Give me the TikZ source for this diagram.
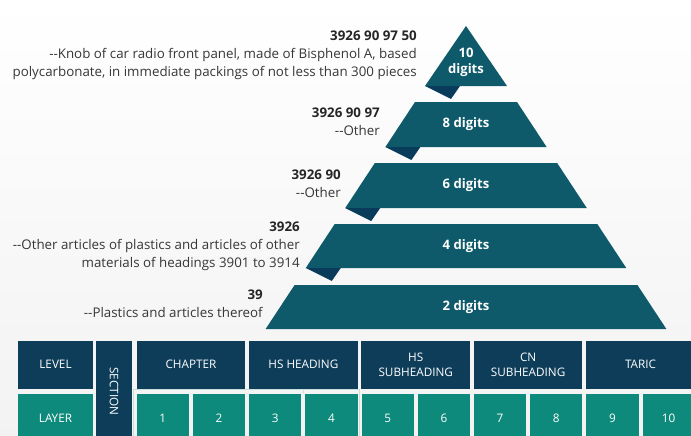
\documentclass[tikz,border=0pt]{standalone}
\usepackage{fontspec}
\setmainfont{Open Sans}
\usetikzlibrary{positioning, shapes}
\definecolor{pyrteal}{RGB}{14,90,106}
\definecolor{folddark}{RGB}{8,60,90}
\definecolor{levelnavy}{RGB}{14,61,89}
\definecolor{layergreen}{RGB}{14,138,124}
\definecolor{desctext}{RGB}{55,55,55}
\definecolor{groupgray}{RGB}{200,224,218}
\tikzstyle{layerlabel} = [text=white, font=\bfseries\fontsize{9.8}{12}\selectfont, align=center]
\tikzstyle{desc} = [anchor=east, align=right, text=desctext, inner sep=0, font=\fontsize{10}{13.5}\selectfont]
\tikzstyle{headbox} = [rectangle, fill=levelnavy, text=white, minimum width=81.4pt, minimum height=36pt, inner sep=0, align=center, font=\fontsize{8.8}{11.5}\selectfont]
\tikzstyle{cellbox} = [rectangle, fill=layergreen, text=white, minimum width=39.2pt, minimum height=36pt, inner sep=0, font=\fontsize{8.8}{11.5}\selectfont]
\tikzstyle{groupline} = [draw=groupgray, line width=0.8pt]

\begin{document}
\begin{tikzpicture}[x=0.75pt, y=-0.75pt]
    \shade[top color=white, bottom color=black!5] (0,0) rectangle (691,435);
    \clip (0,0) rectangle (691,435);

    % Draw the pyramid
    \fill[pyrteal] (466,26) -- (507,86) -- (425,86) -- cycle;
    \fill[folddark] (425,86) -- (460,86) -- (451,99) -- cycle;
    \node[layerlabel] (l10) at (466,62) {10\\digits};
    \foreach \t/\b/\d in {102/147/8, 163/208/6, 224/268/4, 285/329/2} {
        \pgfmathsetmacro{\wt}{0.658*(\t-26)+1}
        \pgfmathsetmacro{\wb}{0.658*(\b-26)+1}
        \fill[pyrteal] (466-\wt,\t) -- (466+\wt,\t) -- (466+\wb,\b) -- (466-\wb,\b) -- cycle;
        \ifnum\d>2
            \fill[folddark] (466-\wb,\b) -- (501-\wb,\b) -- (492-\wb,\b+13) -- cycle;
        \fi
        \node[layerlabel] (l\d) at (466,{(\t+\b)/2}) {\d~digits};
    }

    % Place the descriptions
    \node[desc] (d10) at (417,55) {\textbf{\color{black!85}3926 90 97 50}\\-{}-Knob of car radio front panel, made of Bisphenol A, based\\polycarbonate, in immediate packings of not less than 300 pieces};
    \node[desc] (d8) at (380,122) {\textbf{\color{black!85}3926 90 97}\\-{}-Other};
    \node[desc] (d6) at (341,184) {\textbf{\color{black!85}3926 90}\\-{}-Other};
    \node[desc] (d4) at (300,246) {\textbf{\color{black!85}3926}\\-{}-Other articles of plastics and articles of other\\materials of headings 3901 to 3914};
    \node[desc] (d2) at (263,304) {\textbf{\color{black!85}39}\\-{}-Plastics and articles thereof};

    % Place the table
    \node[headbox, minimum width=56.25pt] (level) at (55.5,364.5) {LEVEL};
    \node[cellbox, minimum width=56.25pt] (layer) at (55.5,418) {LAYER};
    \node[headbox, rotate=-90, minimum width=75.75pt, minimum height=27pt] (section) at (114,391.5) {SECTION};
    \foreach \h [count=\k] in {CHAPTER, HS HEADING, HS\\SUBHEADING, CN\\SUBHEADING, TARIC}
        \node[headbox] (h\k) at ({190.95+(\k-1)*112.4},364.5) {\h};
    \foreach \i in {1,...,10}
        \node[cellbox] (c\i) at ({162.85+(\i-1)*56.2},418) {\i};
    \draw[groupline] (133.3,389.5) rectangle (359.5,445);
    \draw[groupline] (303.3,389.5) -- (303.3,393);
\end{tikzpicture}
\end{document}
